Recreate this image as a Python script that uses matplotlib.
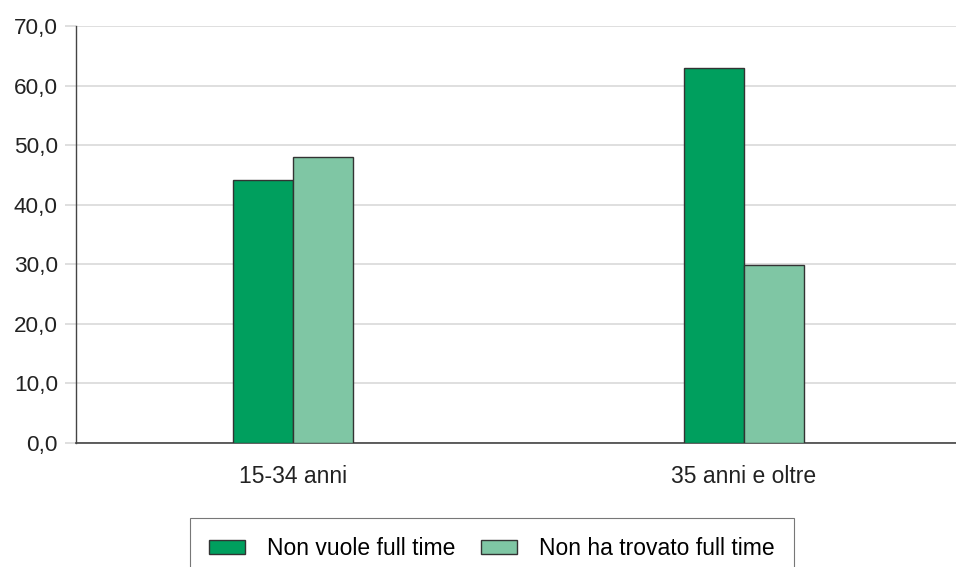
import numpy as np
import matplotlib.pyplot as plt
from matplotlib.ticker import FuncFormatter

categories = ["15-34 anni", "35 anni e oltre"]
non_vuole = [44.2, 62.9]
non_trovato = [48.0, 29.9]
series_names = ["Non vuole full time", "Non ha trovato full time"]

plt.rcParams['font.family'] = ['Liberation Sans', 'DejaVu Sans']

fig = plt.figure(figsize=(9.56, 5.67), dpi=100)
ax = fig.add_axes([0.0795, 0.219, 0.9205, 0.735])

x = np.arange(len(categories))
w = 0.133
ax.bar(x - w / 2, non_vuole, w, color="#009f5e", edgecolor="#333333", linewidth=1.0,
       label=series_names[0], zorder=3)
ax.bar(x + w / 2, non_trovato, w, color="#7fc6a4", edgecolor="#333333", linewidth=1.0,
       label=series_names[1], zorder=3)

ax.set_xlim(-0.481, 1.47)
ax.set_ylim(0, 70)
ax.set_yticks(np.arange(0, 71, 10))
ax.yaxis.set_major_formatter(FuncFormatter(lambda v, p: f"{v:.1f}".replace(".", ",")))
ax.set_xticks(x)
ax.set_xticklabels(categories)

ax.grid(axis="y", color="#d9d9d9", linewidth=1.2, zorder=0)
ax.tick_params(axis="y", length=8, color="#d9d9d9", width=1.2, labelsize=16.2,
               labelcolor="#222222", pad=5)
ax.tick_params(axis="x", length=0, labelsize=16.5, labelcolor="#222222", pad=16)

for s in ["top", "right"]:
    ax.spines[s].set_visible(False)
ax.spines["left"].set_color("#444444")
ax.spines["bottom"].set_color("#444444")
ax.spines["left"].set_linewidth(1.0)
ax.spines["bottom"].set_linewidth(1.2)

leg = fig.legend(loc="upper left", bbox_to_anchor=(0.1987, 0.0864), ncol=2,
                 fontsize=16.5, frameon=True, fancybox=False, edgecolor="#555555",
                 handlelength=1.57, handleheight=0.55, columnspacing=1.1,
                 borderpad=0.85, handletextpad=0.95, borderaxespad=0)
leg.get_frame().set_linewidth(0.8)

fig.savefig("out.png", dpi=100)
